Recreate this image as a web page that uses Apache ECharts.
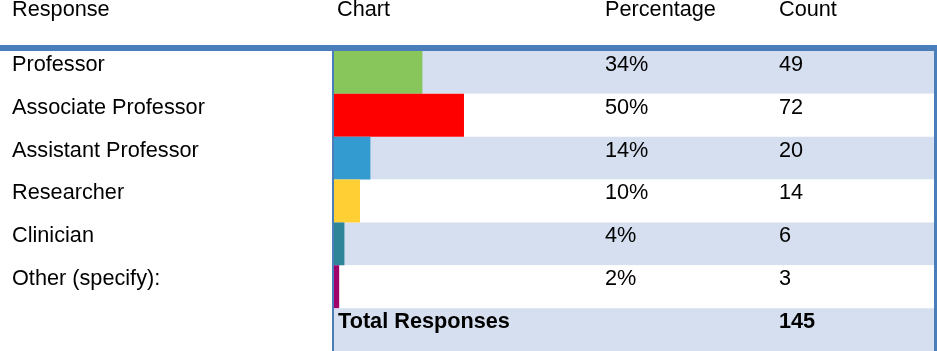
<!DOCTYPE html>
<html>
<head>
    <meta charset="utf-8">
    <title>Survey responses</title>
    <script src="https://cdn.jsdelivr.net/npm/echarts@6.0.0/dist/echarts.min.js"></script>
    <style>
        html, body { margin: 0; padding: 0; background: #fff; }
    </style>
</head>
<body>
<div id="main" style="width: 937px;height:351px;"></div>
<script type="text/javascript">
    var headers = ['Response', 'Chart', 'Percentage', 'Count'];
    var responses = ['Professor', 'Associate Professor', 'Assistant Professor', 'Researcher', 'Clinician', 'Other (specify):'];
    var percentages = [34, 50, 14, 10, 4, 2];
    var counts = [49, 72, 20, 14, 6, 3];
    var totalLabel = 'Total Responses';
    var totalCount = 145;
    var barColors = ['#88c65c', '#ff0000', '#339bd0', '#ffcf33', '#2e8597', '#a0006a'];

    var font = "'Liberation Sans', Arial, sans-serif";
    var fontSize = 21.7;
    var frameColor = '#4a7ebb';

    // one extra row at the bottom for the totals
    var rowNames = responses.concat(['']);
    var chartCol = responses.map(function () { return ''; }).concat([totalLabel]);
    var pctCol = percentages.map(function (p) { return p + '%'; }).concat(['']);
    var countCol = counts.map(function (c) { return String(c); }).concat([String(totalCount)]);

    var gridLeft = 334;
    var headerX = [12, 337, 605, 779];

    // label style shared by the text columns
    function colLabel(margin, extra) {
        var l = {
            show: true,
            interval: 0,
            align: 'left',
            verticalAlign: 'bottom',
            lineHeight: 15,
            margin: margin,
            color: '#000',
            fontFamily: font,
            fontSize: fontSize
        };
        for (var k in extra) l[k] = extra[k];
        return l;
    }

    // text column as a category axis moved across the grid
    function textAxis(data, x, label) {
        return {
            type: 'category',
            inverse: true,
            position: 'left',
            offset: gridLeft - x,
            data: data,
            axisLine: {show: false},
            axisTick: {show: false},
            splitLine: {show: false},
            axisLabel: label
        };
    }

    var myChart = echarts.init(document.getElementById('main'), null, {renderer: 'canvas'});

    myChart.setOption({
        animation: false,
        title: headers.map(function (h, i) {
            return {
                text: h,
                left: headerX[i],
                top: -1,
                padding: 0,
                textStyle: {fontFamily: font, fontSize: fontSize, fontWeight: 'normal', color: '#000'}
            };
        }),
        grid: {left: gridLeft, right: 3, top: 51, height: 43 * rowNames.length},
        xAxis: {
            type: 'value',
            min: 0,
            max: 230.8,   // 100% is 260px wide, the grid carries on to the right edge
            show: false
        },
        yAxis: [
            {
                type: 'category',
                inverse: true,
                data: rowNames,
                axisLine: {show: false},
                axisTick: {show: false},
                splitArea: {show: true, areaStyle: {color: ['#d5dfef', '#ffffff']}},
                axisLabel: colLabel(gridLeft - headerX[0], {})
            },
            textAxis(chartCol, 338, colLabel(0, {fontWeight: 'bold'})),
            textAxis(pctCol, headerX[2], colLabel(0, {})),
            textAxis(countCol, headerX[3], colLabel(0, {
                formatter: function (value, index) {
                    return index === rowNames.length - 1 ? '{b|' + value + '}' : value;
                },
                rich: {
                    b: {fontFamily: font, fontSize: fontSize, fontWeight: 'bold', color: '#000', lineHeight: 15}
                }
            }))
        ],
        series: [
            {
                type: 'bar',
                yAxisIndex: 0,
                barWidth: '100%',
                barCategoryGap: 0,
                data: percentages.map(function (p, i) {
                    return {value: p, itemStyle: {color: barColors[i]}};
                })
            }
        ],
        // table frame
        graphic: [
            {type: 'rect', z: 100, shape: {x: 0, y: 45, width: 937, height: 6}, style: {fill: frameColor}},
            {type: 'rect', z: 100, shape: {x: 332, y: 45, width: 2, height: 306}, style: {fill: frameColor}},
            {type: 'rect', z: 100, shape: {x: 934, y: 45, width: 3, height: 306}, style: {fill: frameColor}}
        ]
    });
</script>
</body>
</html>
